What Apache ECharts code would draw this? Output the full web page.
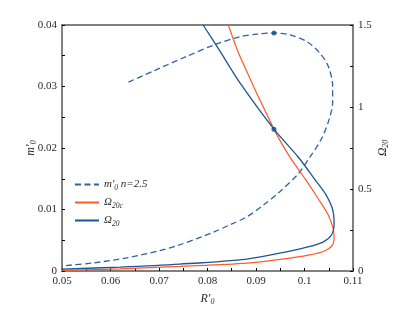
<!DOCTYPE html>
<html>
<head>
<meta charset="utf-8">
<script src="https://cdn.jsdelivr.net/npm/echarts@6/dist/echarts.min.js"></script>
<style>
html,body{margin:0;padding:0;background:#fff;}
#c{width:415px;height:311px;}
</style>
</head>
<body>
<div id="c"></div>
<script>
// m'_0 (n = 2.5) curve, left axis
const mX = [0.0637,0.0688,0.0757,0.0815,0.0867,0.0901,0.0937,0.0970,0.1005,0.1032,0.1049,0.1058,0.1058,0.1051,0.1035,0.1011,0.0987,0.0949,0.0915,0.0881,0.0846,0.0812,0.0791,0.0740,0.0702,0.0633,0.0565,0.0506,0.0500];
const mY = [0.0307,0.0325,0.0349,0.0368,0.0381,0.0385,0.0387,0.0384,0.0373,0.0354,0.0333,0.0301,0.0274,0.0247,0.0215,0.0185,0.0158,0.0129,0.0107,0.0088,0.0075,0.0063,0.00565,0.00419,0.00331,0.00213,0.00132,0.00087,0.00082];
// Omega_20c curve, right axis
const cX = [0.0843,0.0867,0.0937,0.0970,0.1001,0.1028,0.1049,0.1059,0.1061,0.1058,0.1039,0.1005,0.0970,0.0881,0.0743,0.0620,0.0500];
const cY = [1.5,1.308,0.865,0.694,0.563,0.442,0.341,0.260,0.210,0.159,0.119,0.095,0.079,0.048,0.028,0.013,0.004];
// Omega_20 curve, right axis
const oX = [0.0791,0.0826,0.0867,0.0937,0.0987,0.1020,0.1044,0.1058,0.1061,0.1056,0.1039,0.1005,0.0970,0.0881,0.0743,0.0620,0.0500];
const oY = [1.5,1.339,1.147,0.865,0.695,0.563,0.466,0.375,0.284,0.221,0.178,0.145,0.121,0.073,0.042,0.024,0.012];
// highlighted points
const markM = [0.0937, 0.0387];
const markO = [0.0937, 0.865];
// tick settings
const xTicks = {min:0.05, max:0.11, step:0.01};
const yLeftTicks = {min:0, max:0.04, step:0.01};
const yRightTicks = {min:0, max:1.5, step:0.5};

const zip = (a,b) => a.map((v,i)=>[v,b[i]]);
const FONT = 'Liberation Serif';
const TXT = '#2a2a2a';
const AXC = '#808080';

const mkRich = (fs, ss, pad) => ({
  it:{fontFamily:FONT,fontStyle:'italic',fontSize:fs,color:TXT},
  sub:{fontFamily:FONT,fontStyle:'italic',fontSize:ss,color:TXT,verticalAlign:'top',padding:[pad,0,0,0]}
});
const legRich = mkRich(11, 7.5, 7);
const nameRich = mkRich(12, 8, 7);

const legendText = {
  'm0':'{it|m′}{sub|0}{it| n=2.5}',
  'O20c':'{it|Ω}{sub|20c}',
  'O20':'{it|Ω}{sub|20}'
};

const baseAxis = {
  splitLine:{show:false},
  axisLine:{show:true,lineStyle:{color:AXC,width:2}},
  axisTick:{show:true,inside:true,length:3,lineStyle:{color:'#000',width:1}},
  minorTick:{show:true,splitNumber:2,length:3,lineStyle:{color:'#000',width:1}},
  axisLabel:{fontFamily:FONT,fontSize:11,color:TXT}
};

const chart = echarts.init(document.getElementById('c'));
chart.setOption({
  animation:false,
  backgroundColor:'#fff',
  grid:{left:62,right:62,top:25,bottom:38,show:true,borderColor:AXC,borderWidth:2},
  legend:{
    orient:'vertical',left:69,top:174,itemWidth:24,itemHeight:10,itemGap:5,
    data:['m0','O20c','O20'],
    itemStyle:{opacity:0},
    formatter:n=>legendText[n],
    textStyle:{rich:legRich}
  },
  xAxis:Object.assign({},baseAxis,{
    type:'value',min:xTicks.min,max:xTicks.max,interval:xTicks.step,
    axisLabel:Object.assign({},baseAxis.axisLabel,{margin:5,formatter:v=>String(+v.toFixed(2))}),
    name:'{it|R′}{sub|0}',nameLocation:'middle',nameGap:20,
    nameTextStyle:{rich:nameRich}
  }),
  yAxis:[
    Object.assign({},baseAxis,{
      type:'value',position:'left',min:yLeftTicks.min,max:yLeftTicks.max,interval:yLeftTicks.step,
      axisLabel:Object.assign({},baseAxis.axisLabel,{margin:5,formatter:v=>String(+v.toFixed(3))}),
      name:'{it|m′}{sub|0}',nameLocation:'middle',nameGap:24,nameRotate:90,nameMoveOverlap:false,
      nameTextStyle:{rich:nameRich}
    }),
    Object.assign({},baseAxis,{
      type:'value',position:'right',min:yRightTicks.min,max:yRightTicks.max,interval:yRightTicks.step,
      axisLabel:Object.assign({},baseAxis.axisLabel,{margin:5,formatter:v=>String(+v.toFixed(2))}),
      name:'{it|Ω}{sub|20}',nameLocation:'middle',nameGap:22,nameRotate:90,nameMoveOverlap:false,
      nameTextStyle:{rich:nameRich}
    })
  ],
  series:[
    {name:'m0',type:'line',yAxisIndex:0,data:zip(mX,mY),smooth:0.3,symbol:'none',
     lineStyle:{color:'#2d62a4',width:1.3,type:[6,3.5]},itemStyle:{color:'#2d62a4'}},
    {name:'O20c',type:'line',yAxisIndex:1,data:zip(cX,cY),smooth:0.3,symbol:'none',
     lineStyle:{color:'#ff5a2a',width:1.2},itemStyle:{color:'#ff5a2a'}},
    {name:'O20',type:'line',yAxisIndex:1,data:zip(oX,oY),smooth:0.3,symbol:'none',
     lineStyle:{color:'#1d5596',width:1.3},itemStyle:{color:'#1d5596'}},
    {name:'pm',type:'scatter',yAxisIndex:0,data:[markM],symbolSize:5,itemStyle:{color:'#184a86'},z:5},
    {name:'po',type:'scatter',yAxisIndex:1,data:[markO],symbolSize:5,itemStyle:{color:'#184a86'},z:5}
  ]
});
</script>
</body>
</html>
